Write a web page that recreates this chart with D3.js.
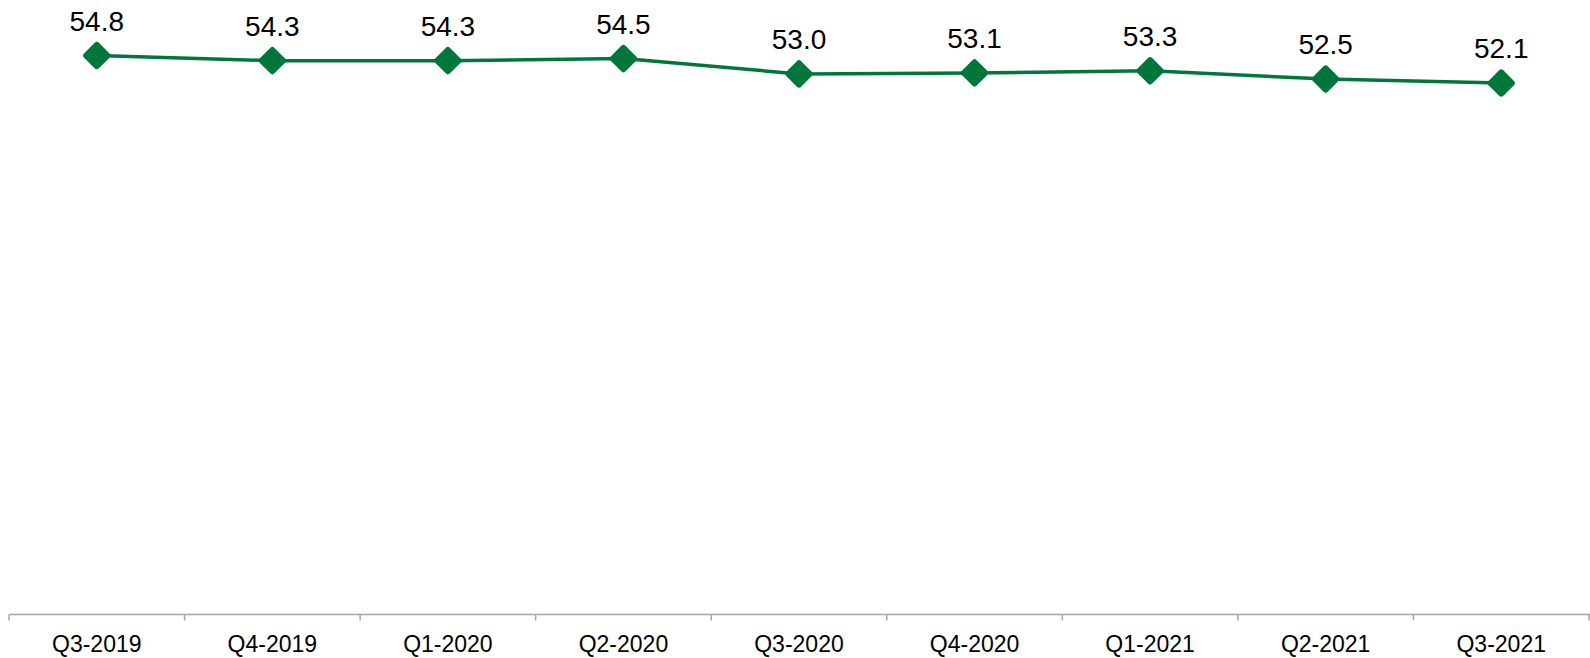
<!DOCTYPE html>
<html>
<head>
<meta charset="utf-8">
<script src="https://cdn.jsdelivr.net/npm/d3@7"></script>
<style>
  html, body { margin: 0; padding: 0; background: #fff; }
  svg { display: block; }
</style>
</head>
<body>
<svg id="chart" width="1590" height="658"></svg>
<script>
const quarters = ["Q3-2019", "Q4-2019", "Q1-2020", "Q2-2020", "Q3-2020",
                  "Q4-2020", "Q1-2021", "Q2-2021", "Q3-2021"];
const values = [54.8, 54.3, 54.3, 54.5, 53.0, 53.1, 53.3, 52.5, 52.1];

const width = 1590;
const height = 658;
const axisY = 614.5;

const svg = d3.select("#chart");

const x = d3.scaleBand().domain(quarters).range([9, 1589]);
const y = d3.scaleLinear().domain([0, 60]).range([axisY, 2.5]);

const cx = (d) => x(d) + x.bandwidth() / 2;

// x axis (ticks between categories)
const axis = svg.append("g").attr("transform", `translate(0,${axisY})`);
axis.append("line")
  .attr("x1", 9).attr("x2", width)
  .attr("stroke", "#a6a6a6").attr("stroke-width", 1.5);

const boundaries = quarters.map((q) => x(q)).concat([x.range()[1]]);
axis.selectAll("line.tick")
  .data(boundaries)
  .enter()
  .append("line")
  .attr("class", "tick")
  .attr("x1", (d) => d).attr("x2", (d) => d)
  .attr("y1", 0).attr("y2", 6)
  .attr("stroke", "#a6a6a6").attr("stroke-width", 1.5);

axis.selectAll("text")
  .data(quarters)
  .enter()
  .append("text")
  .attr("x", (d) => cx(d))
  .attr("y", 37)
  .attr("text-anchor", "middle")
  .attr("font-family", "Liberation Sans, Arial, sans-serif")
  .attr("font-size", 23)
  .attr("fill", "#000")
  .text((d) => d);

// line
const line = d3.line()
  .x((d, i) => cx(quarters[i]))
  .y((d) => y(d));

svg.append("path")
  .datum(values)
  .attr("d", line)
  .attr("fill", "none")
  .attr("stroke", "#00773a")
  .attr("stroke-width", 3.5);

// diamond markers
const s = 21;
svg.selectAll("rect.marker")
  .data(values)
  .enter()
  .append("rect")
  .attr("class", "marker")
  .attr("x", -s / 2).attr("y", -s / 2)
  .attr("width", s).attr("height", s)
  .attr("rx", 3).attr("ry", 3)
  .attr("fill", "#00773a")
  .attr("transform", (d, i) => `translate(${cx(quarters[i])},${y(d)}) rotate(45)`);

// data labels
svg.selectAll("text.label")
  .data(values)
  .enter()
  .append("text")
  .attr("class", "label")
  .attr("x", (d, i) => cx(quarters[i]))
  .attr("y", (d) => y(d) - 25)
  .attr("text-anchor", "middle")
  .attr("font-family", "Liberation Sans, Arial, sans-serif")
  .attr("font-size", 28)
  .attr("fill", "#000")
  .text((d) => d.toFixed(1));
</script>
</body>
</html>
